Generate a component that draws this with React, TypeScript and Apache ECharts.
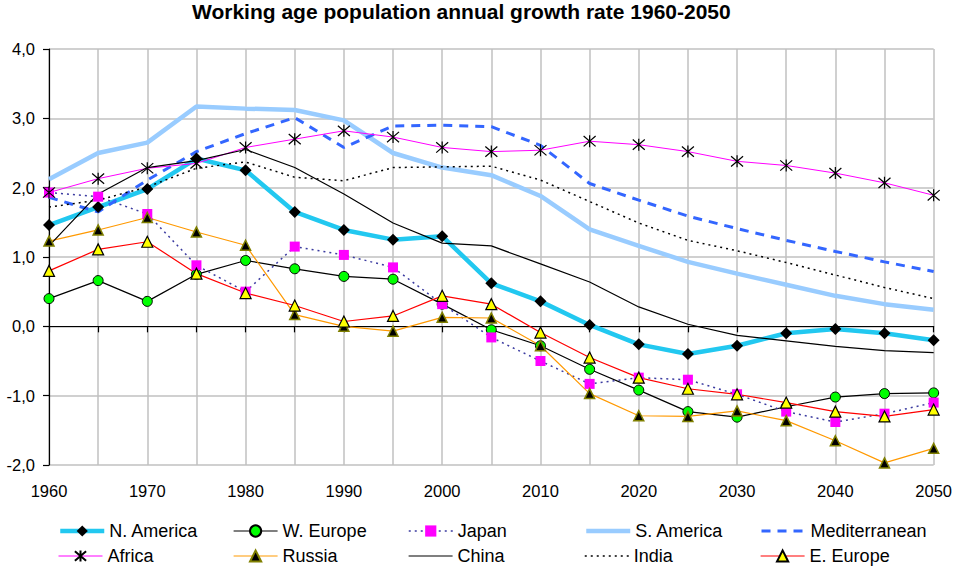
import React, { useEffect, useRef } from "react";
import * as echarts from "echarts";

const years = [1960, 1965, 1970, 1975, 1980, 1985, 1990, 1995, 2000, 2005, 2010, 2015, 2020, 2025, 2030, 2035, 2040, 2045, 2050];

const nAmerica = [1.46, 1.72, 1.98, 2.42, 2.25, 1.65, 1.39, 1.25, 1.30, 0.62, 0.36, 0.02, -0.26, -0.40, -0.28, -0.10, -0.04, -0.10, -0.20];
const wEurope = [0.40, 0.66, 0.36, 0.75, 0.95, 0.83, 0.72, 0.68, 0.32, -0.05, -0.28, -0.62, -0.92, -1.23, -1.31, -1.16, -1.02, -0.97, -0.96];
const japan = [1.93, 1.87, 1.62, 0.88, 0.50, 1.15, 1.03, 0.85, 0.32, -0.16, -0.50, -0.83, -0.74, -0.77, -0.98, -1.23, -1.38, -1.26, -1.10];
const sAmerica = [2.12, 2.50, 2.65, 3.17, 3.14, 3.12, 2.97, 2.50, 2.29, 2.18, 1.88, 1.40, 1.16, 0.93, 0.76, 0.60, 0.44, 0.32, 0.24];
const mediterranean = [1.86, 1.65, 2.11, 2.52, 2.78, 3.01, 2.58, 2.89, 2.90, 2.88, 2.61, 2.06, 1.82, 1.59, 1.41, 1.24, 1.08, 0.93, 0.79];
const africa = [1.93, 2.13, 2.28, 2.35, 2.58, 2.70, 2.82, 2.73, 2.58, 2.52, 2.54, 2.67, 2.62, 2.52, 2.38, 2.32, 2.21, 2.07, 1.89];
const russia = [1.23, 1.39, 1.57, 1.36, 1.17, 0.17, 0.00, -0.07, 0.13, 0.12, -0.28, -0.97, -1.29, -1.30, -1.22, -1.36, -1.65, -1.97, -1.76];
const china = [1.16, 1.91, 2.29, 2.39, 2.55, 2.29, 1.91, 1.49, 1.20, 1.16, 0.90, 0.64, 0.28, 0.03, -0.13, -0.21, -0.29, -0.35, -0.38];
const india = [1.72, 1.82, 2.01, 2.28, 2.37, 2.15, 2.10, 2.29, 2.30, 2.31, 2.11, 1.80, 1.49, 1.24, 1.09, 0.92, 0.74, 0.56, 0.40];
const eEurope = [0.80, 1.11, 1.22, 0.76, 0.48, 0.30, 0.07, 0.15, 0.44, 0.32, -0.09, -0.45, -0.74, -0.90, -0.98, -1.10, -1.23, -1.30, -1.20];

const seriesNames = ["N. America", "W. Europe", "Japan", "S. America", "Mediterranean", "Africa", "Russia", "China", "India", "E. Europe"];
const yTicks = [-2, -1, 0, 1, 2, 3, 4];

const FONT = '"Liberation Sans", Arial, sans-serif';
const ASTERISK = "path://M0 0L12 12M12 0L0 12M6 -1L6 13";

function pts(arr: number[]) {
  return years.map((y, i) => [y, arr[i]]);
}

export default function App() {
  const ref = useRef<HTMLDivElement>(null);
  useEffect(() => {
    if (!ref.current) return;
    const chart = echarts.init(ref.current, null, { renderer: "svg" });

    const thin = 1.2;
    const series: any[] = [
      {
        name: "N. America",
        type: "line",
        data: pts(nAmerica),
        lineStyle: { color: "#22c8f0", width: 4.5 },
        symbol: "diamond",
        symbolSize: 12,
        itemStyle: { color: "#000", borderColor: "#000", borderWidth: 0 },
      },
      {
        name: "W. Europe",
        type: "line",
        data: pts(wEurope),
        lineStyle: { color: "#000", width: thin },
        symbol: "circle",
        symbolSize: 10,
        itemStyle: { color: "#00ff00", borderColor: "#000", borderWidth: 1 },
      },
      {
        name: "Japan",
        type: "line",
        data: pts(japan),
        lineStyle: { color: "#3b3ba0", width: 1.5, type: [2, 4] },
        symbol: "rect",
        symbolSize: 10,
        itemStyle: { color: "#ff00ff", borderWidth: 0 },
      },
      {
        name: "S. America",
        type: "line",
        data: pts(sAmerica),
        lineStyle: { color: "#99ccff", width: 4.5 },
        symbol: "none",
        itemStyle: { color: "#99ccff" },
      },
      {
        name: "Mediterranean",
        type: "line",
        data: pts(mediterranean),
        lineStyle: { color: "#3366ff", width: 3, type: [9, 7] },
        symbol: "none",
        itemStyle: { color: "#3366ff" },
      },
      {
        name: "Africa",
        type: "line",
        data: pts(africa),
        lineStyle: { color: "#ff00ff", width: 1 },
        symbol: ASTERISK,
        symbolSize: 12,
        itemStyle: { color: "#000", borderColor: "#000", borderWidth: 1.2 },
      },
      {
        name: "Russia",
        type: "line",
        data: pts(russia),
        lineStyle: { color: "#ff9900", width: thin },
        symbol: "triangle",
        symbolSize: 10,
        itemStyle: { color: "#000", borderColor: "#808000", borderWidth: 1.5 },
      },
      {
        name: "China",
        type: "line",
        data: pts(china),
        lineStyle: { color: "#000", width: thin },
        symbol: "none",
        itemStyle: { color: "#000" },
      },
      {
        name: "India",
        type: "line",
        data: pts(india),
        lineStyle: { color: "#000", width: 1.5, type: [2, 4] },
        symbol: "none",
        itemStyle: { color: "#000" },
      },
      {
        name: "E. Europe",
        type: "line",
        data: pts(eEurope),
        lineStyle: { color: "#ff0000", width: thin },
        symbol: "triangle",
        symbolSize: 11,
        itemStyle: { color: "#ffff00", borderColor: "#000", borderWidth: 1.2 },
      },
    ];

    const legendCols = [58, 233, 408, 584, 760];
    const legendRows = [522, 547];
    const legends = seriesNames.map((name, i) => {
      const s = series[i];
      const noMarker = s.symbol === "none";
      const item: any = { name };
      if (noMarker) item.itemStyle = { opacity: 0, color: "transparent", borderWidth: 0 };
      return {
        data: [item],
        left: legendCols[i % 5],
        top: legendRows[Math.floor(i / 5)],
        itemWidth: 44,
        itemHeight: 14,
        itemGap: 0,
        padding: 0,
        selectedMode: false,
        lineStyle: { width: s.lineStyle.width, type: s.lineStyle.type || "solid", color: s.lineStyle.color },
        textStyle: { fontSize: 18, fontFamily: FONT, color: "#000", padding: [0, 0, 0, 0] },
      };
    });

    const option: any = {
      animation: false,
      backgroundColor: "#fff",
      title: {
        text: "Working age population annual growth rate 1960-2050",
        left: 192,
        top: 1,
        padding: 0,
        textStyle: { fontSize: 21, fontWeight: "bold", fontFamily: FONT, color: "#000" },
      },
      legend: legends,
      grid: { left: 49, right: 20, top: 49, bottom: 103, containLabel: false },
      xAxis: [
        {
          type: "value",
          min: 1960,
          max: 2050,
          interval: 5,
          position: "bottom",
          axisLine: { show: false, onZero: false },
          axisTick: { show: false },
          splitLine: { show: true, lineStyle: { color: "#c0c0c0", width: 1.5 } },
          axisLabel: {
            margin: 17,
            fontSize: 16.5,
            fontFamily: FONT,
            color: "#000",
            formatter: (v: number) => (v % 10 === 0 ? String(v) : ""),
          },
        },
        {
          type: "value",
          min: 1960,
          max: 2050,
          interval: 5,
          position: "bottom",
          axisLine: { show: true, onZero: true, lineStyle: { color: "#000", width: 1.2 } },
          axisTick: { show: true, length: 6, lineStyle: { color: "#000", width: 1.2 } },
          splitLine: { show: false },
          axisLabel: { show: false },
        },
      ],
      yAxis: {
        type: "value",
        min: -2,
        max: 4,
        interval: 1,
        axisLine: { show: true, lineStyle: { color: "#000", width: 1.2 } },
        axisTick: { show: true, length: 6, lineStyle: { color: "#000", width: 1.2 } },
        splitLine: { show: true, lineStyle: { color: "#c0c0c0", width: 1.5 } },
        axisLabel: {
          margin: 14,
          fontSize: 16.5,
          fontFamily: FONT,
          color: "#000",
          formatter: (v: number) => (yTicks.includes(v) ? v.toFixed(1).replace(".", ",") : ""),
        },
      },
      series,
    };
    chart.setOption(option);
    return () => chart.dispose();
  }, []);
  return (
    <div
      ref={ref}
      style={{ position: "fixed", left: 0, top: 0, width: 955, height: 568, background: "#fff" }}
    />
  );
}
